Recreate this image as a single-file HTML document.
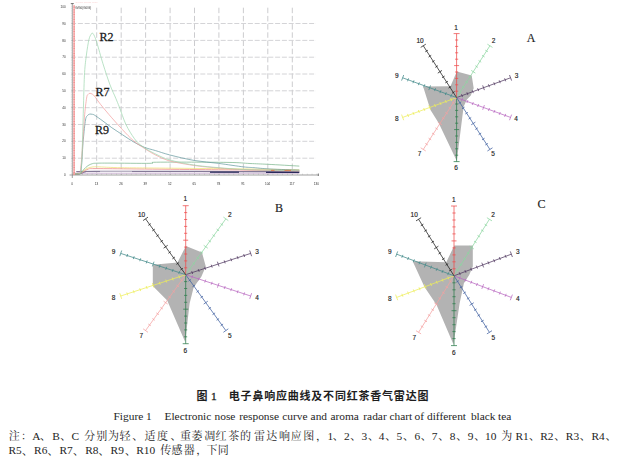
<!DOCTYPE html>
<html lang="zh"><head><meta charset="utf-8"><title>Figure 1</title>
<style>
html,body{margin:0;padding:0;background:#fff}
#fig{position:relative;width:623px;height:457px;overflow:hidden;background:#fff;font-family:"Liberation Serif",serif;color:#222}
#fig svg{position:absolute;left:0;top:0}
</style></head><body>
<div id="fig">
<svg width="623" height="457" viewBox="0 0 623 457" role="img" aria-label="Figure 1">
<defs><filter id="soft" x="-5%" y="-5%" width="110%" height="110%"><feGaussianBlur stdDeviation="0.32"/></filter></defs>
<g id="linechart" filter="url(#soft)"><g stroke="#c6c6ca" stroke-width="0.9" stroke-dasharray="5.5 2.7" fill="none"><line x1="96.7" y1="7.7" x2="96.7" y2="175.0"/><line x1="121.2" y1="7.7" x2="121.2" y2="175.0"/><line x1="145.6" y1="7.7" x2="145.6" y2="175.0"/><line x1="170.1" y1="7.7" x2="170.1" y2="175.0"/><line x1="194.5" y1="7.7" x2="194.5" y2="175.0"/><line x1="218.9" y1="7.7" x2="218.9" y2="175.0"/><line x1="243.4" y1="7.7" x2="243.4" y2="175.0"/><line x1="267.8" y1="7.7" x2="267.8" y2="175.0"/><line x1="292.3" y1="7.7" x2="292.3" y2="175.0"/></g>
<g stroke="#cfcfd2" stroke-width="0.9" stroke-dasharray="5 1.8" fill="none"><line x1="71.1" y1="158.2" x2="316.0" y2="158.2"/><line x1="71.1" y1="141.3" x2="316.0" y2="141.3"/><line x1="71.1" y1="124.5" x2="316.0" y2="124.5"/><line x1="71.1" y1="107.7" x2="316.0" y2="107.7"/><line x1="71.1" y1="90.8" x2="316.0" y2="90.8"/><line x1="71.1" y1="74.0" x2="316.0" y2="74.0"/><line x1="71.1" y1="57.2" x2="316.0" y2="57.2"/><line x1="71.1" y1="40.4" x2="316.0" y2="40.4"/><line x1="71.1" y1="23.5" x2="316.0" y2="23.5"/></g>
<path d="M73.0 173.2L299.3 173.2" fill="none" stroke="#dccae0" stroke-width="1.5" stroke-linejoin="round"/>
<path d="M73.0 174.0C74.2 173.9 78.0 173.9 80.0 173.6C82.0 173.3 82.5 172.4 85.0 172.0C87.5 171.6 59.3 171.5 95.0 171.4C130.7 171.3 265.2 171.6 299.3 171.6" fill="none" stroke="#857a98" stroke-width="1.2" stroke-linejoin="round"/>
<path d="M210.0 172.2L239.0 172.2" fill="none" stroke="#2c2c5c" stroke-width="1.2" stroke-linejoin="round"/>
<path d="M266.0 172.4L299.3 172.4" fill="none" stroke="#2c2c5c" stroke-width="1.2" stroke-linejoin="round"/>
<path d="M73.0 174.0C74.0 174.0 77.2 174.2 79.0 173.8C80.8 173.4 82.0 172.3 83.5 171.5C85.0 170.7 86.2 169.7 88.0 169.2C89.8 168.7 87.0 168.6 94.0 168.6C101.0 168.6 112.3 168.7 130.0 168.9C147.7 169.1 171.8 169.3 200.0 169.6C228.2 169.8 282.8 170.3 299.3 170.4" fill="none" stroke="#f09898" stroke-width="0.9" stroke-linejoin="round"/>
<path d="M73.0 174.0C74.0 174.0 77.4 174.2 79.0 173.8C80.6 173.4 81.2 172.4 82.5 171.5C83.8 170.6 85.2 169.2 87.0 168.4C88.8 167.6 90.8 167.2 93.0 166.9C95.2 166.7 96.2 166.8 100.0 166.9C103.8 167.0 107.7 167.4 116.0 167.6C124.3 167.8 127.7 167.8 150.0 168.0C172.3 168.2 225.1 168.7 250.0 169.0C274.9 169.3 291.1 169.7 299.3 169.8" fill="none" stroke="#ece070" stroke-width="0.7" stroke-linejoin="round"/>
<path d="M73.0 174.0C74.0 174.0 77.6 174.1 79.0 173.8C80.4 173.5 80.7 173.2 81.5 172.4C82.3 171.6 82.9 170.3 84.0 169.2C85.1 168.1 86.6 166.5 88.0 165.6C89.4 164.7 91.0 164.0 92.5 163.6C94.0 163.2 94.1 163.3 97.0 163.2C99.9 163.1 101.2 163.1 110.0 163.1C118.8 163.1 142.0 163.5 150.0 163.3C158.0 163.2 145.2 162.3 158.0 162.2C170.8 162.0 211.7 162.2 227.0 162.4C242.3 162.6 243.2 163.2 250.0 163.5C256.8 163.8 259.5 163.9 267.7 164.3C275.9 164.7 294.0 165.8 299.3 166.1" fill="none" stroke="#74b286" stroke-width="0.7" stroke-linejoin="round"/>
<path d="M73.0 174.0C74.2 173.9 78.6 175.1 80.0 173.6C81.4 172.1 81.0 170.7 81.6 165.0C82.1 159.3 82.6 147.2 83.3 139.7C84.0 132.2 84.8 124.0 85.5 120.0C86.2 116.0 86.8 116.5 87.5 115.5C88.2 114.5 89.2 114.3 89.9 114.1C90.7 113.9 91.3 114.1 92.0 114.3C92.7 114.5 92.5 113.9 94.3 115.0C96.1 116.1 100.1 119.0 103.0 121.1C105.9 123.2 108.5 125.4 111.8 127.7C115.1 130.0 119.1 132.5 122.7 134.9C126.3 137.3 129.9 139.8 133.6 141.9C137.2 144.0 140.9 146.0 144.6 147.4C148.2 148.8 151.3 149.3 155.5 150.6C159.7 151.8 163.1 153.2 169.6 154.9C176.1 156.6 186.3 159.1 194.5 160.5C202.7 161.9 210.5 162.3 218.7 163.4C226.9 164.5 237.7 166.2 243.6 166.9C249.5 167.6 249.6 167.3 254.0 167.7C258.4 168.0 262.4 168.6 270.0 169.0C277.6 169.4 294.4 169.9 299.3 170.1" fill="none" stroke="#62969c" stroke-width="0.7" stroke-linejoin="round"/>
<path d="M73.0 174.0C74.1 173.9 78.2 175.1 79.5 173.6C80.8 172.1 80.5 168.8 81.0 165.0C81.5 161.2 81.6 158.5 82.2 150.6C82.8 142.7 83.7 126.5 84.4 117.8C85.1 109.0 86.0 102.0 86.6 98.1C87.2 94.2 87.5 95.3 88.0 94.5C88.5 93.7 89.2 93.4 89.9 93.3C90.6 93.2 91.3 93.6 92.0 94.0C92.7 94.4 92.8 94.1 94.3 95.9C95.8 97.7 97.9 101.1 100.8 104.7C103.7 108.3 108.1 113.6 111.8 117.8C115.5 122.0 119.1 126.1 122.7 129.9C126.3 133.7 129.9 137.7 133.6 140.8C137.2 143.9 140.9 146.1 144.6 148.5C148.2 150.9 151.6 153.0 155.5 155.0C159.4 157.0 163.6 159.1 168.0 160.5C172.4 161.9 177.0 162.6 182.0 163.5C187.0 164.4 191.9 165.2 198.0 166.0C204.1 166.8 211.1 167.4 218.7 168.0C226.3 168.6 235.0 169.4 243.6 169.8C252.2 170.2 260.7 170.3 270.0 170.5C279.3 170.7 294.4 170.9 299.3 171.0" fill="none" stroke="#f29c9c" stroke-width="0.7" stroke-linejoin="round"/>
<path d="M73.0 174.0C74.1 173.9 78.4 175.1 79.8 173.6C81.2 172.1 81.0 170.6 81.5 165.0C82.0 159.4 82.2 150.0 82.5 140.0C82.8 130.0 83.2 116.2 83.5 105.0C83.8 93.8 84.1 80.8 84.6 72.5C85.1 64.2 85.7 60.5 86.4 55.0C87.1 49.5 88.2 42.7 89.0 39.3C89.8 35.9 90.5 35.5 91.0 34.5C91.5 33.5 91.8 33.2 92.2 33.1C92.6 33.0 93.0 33.5 93.3 34.0C93.6 34.5 93.7 34.3 94.3 35.8C94.9 37.3 95.5 38.1 96.9 42.8C98.4 47.5 100.8 56.8 103.0 63.8C105.2 70.8 107.8 79.0 110.0 84.8C112.2 90.6 114.5 95.1 116.0 98.8C117.5 102.5 117.6 102.6 119.3 106.9C121.0 111.2 123.4 119.1 125.9 124.4C128.4 129.7 131.9 135.1 134.4 138.6C136.9 142.1 138.4 143.2 140.8 145.2C143.2 147.2 145.8 148.8 149.0 150.6C152.2 152.4 156.7 154.6 159.9 156.1C163.1 157.6 164.3 158.3 168.0 159.4C171.7 160.5 177.0 161.9 182.0 162.9C187.0 163.9 191.9 164.8 198.0 165.6C204.1 166.4 211.1 167.0 218.7 167.7C226.3 168.3 235.0 169.1 243.6 169.5C252.2 169.9 260.7 170.1 270.0 170.3C279.3 170.5 294.4 170.7 299.3 170.8" fill="none" stroke="#9cd6ae" stroke-width="0.7" stroke-linejoin="round"/>
<path d="M271 170.4h3.5M284.5 170.4h6.5" stroke="#e0703c" stroke-width="0.8" fill="none"/>
<path d="M100 171.9H132" stroke="#fff" stroke-width="0.7" fill="none"/>
<path d="M72.3 3.5V178M69.5 175.0H318.3" fill="none" stroke="#777" stroke-width="0.7"/>
<path d="M70.8 3.6h3M318.3 176.0v-2.5" fill="none" stroke="#505050" stroke-width="0.8"/>
<line x1="71.4" y1="6.7" x2="71.4" y2="175.0" stroke="#bbb" stroke-width="0.7" stroke-dasharray="0.4 1.283"/>
<line x1="72.3" y1="174.2" x2="317" y2="174.2" stroke="#999" stroke-width="0.9" stroke-dasharray="0.45 4.438"/>
<line x1="74.1" y1="5.5" x2="74.1" y2="175.0" stroke="#f7b0b0" stroke-width="1.5"/>
<line x1="74.1" y1="5.5" x2="74.1" y2="175.0" stroke="#f28686" stroke-width="1.3" stroke-dasharray="0.9 0.8"/>
<g font-family="Liberation Sans, sans-serif" font-size="3.1" fill="#2a2a2a"><text x="65.7" y="176.1" text-anchor="end">0</text><text x="65.7" y="159.3" text-anchor="end">10</text><text x="65.7" y="142.4" text-anchor="end">20</text><text x="65.7" y="125.6" text-anchor="end">30</text><text x="65.7" y="108.8" text-anchor="end">40</text><text x="65.7" y="91.9" text-anchor="end">50</text><text x="65.7" y="75.1" text-anchor="end">60</text><text x="65.7" y="58.3" text-anchor="end">70</text><text x="65.7" y="41.5" text-anchor="end">80</text><text x="65.7" y="24.6" text-anchor="end">90</text><text x="65.7" y="7.8" text-anchor="end">100</text><text x="72.0" y="184.8" text-anchor="middle">0</text><text x="96.4" y="184.8" text-anchor="middle">13</text><text x="120.9" y="184.8" text-anchor="middle">26</text><text x="145.3" y="184.8" text-anchor="middle">39</text><text x="169.8" y="184.8" text-anchor="middle">52</text><text x="194.2" y="184.8" text-anchor="middle">65</text><text x="218.6" y="184.8" text-anchor="middle">78</text><text x="243.1" y="184.8" text-anchor="middle">91</text><text x="267.5" y="184.8" text-anchor="middle">104</text><text x="292.0" y="184.8" text-anchor="middle">117</text><text x="316.4" y="184.8" text-anchor="middle">130</text><text x="75.2" y="9.2" font-size="2.95">G/G0(G0/G)</text></g>
<text x="75.6" y="3.1" font-family="Liberation Sans, sans-serif" font-size="2.4" fill="#fad4d4">Sensor signals G/G0 · · ·</text></g>
<text x="99.6" y="40.9" font-family="Liberation Serif, serif" font-size="12" fill="#1c1c1c" stroke="#1c1c1c" stroke-width="0.28">R2</text><text x="95.4" y="96.1" font-family="Liberation Serif, serif" font-size="12" fill="#1c1c1c" stroke="#1c1c1c" stroke-width="0.28">R7</text><text x="95.0" y="134.0" font-family="Liberation Serif, serif" font-size="12" fill="#1c1c1c" stroke="#1c1c1c" stroke-width="0.28">R9</text>
<g id="radarA"><g filter="url(#soft)"><path d="M456.8 71.6L471.7 75.5L473.7 88.2L470.8 95.5L466.9 99.4L463.6 106.7L456.8 161.0L438.8 123.2L430.5 110.0L423.1 86.6L450.5 86.3Z" fill="#b3b3b3"/>
<path d="M456.6 97.6L456.6 33.6M455.1 91.2L458.2 91.2M455.1 84.8L458.2 84.8M455.1 78.4L458.2 78.4M455.1 72.0L458.2 72.0M454.1 65.6L459.1 65.6M455.1 59.2L458.2 59.2M455.1 52.8L458.2 52.8M455.1 46.4L458.2 46.4M455.1 40.0L458.2 40.0M453.6 33.6L459.6 33.6" fill="none" stroke="#ee4c4c" stroke-width="0.75"/>
<path d="M456.6 97.6L489.9 45.8M458.6 91.6L461.2 93.3M462.0 86.4L464.6 88.1M465.3 81.2L467.9 82.9M468.6 76.1L471.2 77.7M471.2 70.4L475.4 73.1M475.3 65.7L477.9 67.4M478.6 60.5L481.2 62.2M482.0 55.3L484.6 57.0M485.3 50.2L487.9 51.8M487.4 44.2L492.5 47.4" fill="none" stroke="#8cd6a0" stroke-width="0.75"/>
<path d="M456.6 97.6L510.5 77.8M461.5 94.2L462.5 97.1M466.9 92.2L467.9 95.1M472.2 90.2L473.3 93.1M477.6 88.2L478.7 91.1M482.7 85.4L484.4 90.1M488.4 84.3L489.5 87.2M493.8 82.3L494.9 85.2M499.2 80.3L500.3 83.2M504.6 78.3L505.7 81.3M509.5 75.0L511.6 80.6" fill="none" stroke="#503860" stroke-width="0.75"/>
<path d="M456.6 97.6L510.5 117.4M462.5 98.1L461.5 101.0M467.9 100.1L466.9 103.0M473.3 102.1L472.2 105.0M478.7 104.1L477.6 107.0M484.4 105.1L482.7 109.8M489.5 108.0L488.4 110.9M494.9 110.0L493.8 112.9M500.3 112.0L499.2 114.9M505.7 113.9L504.6 116.9M511.6 114.6L509.5 120.2" fill="none" stroke="#b868c0" stroke-width="0.75"/>
<path d="M456.6 97.6L489.9 149.4M461.2 101.9L458.6 103.6M464.6 107.1L462.0 108.8M467.9 112.3L465.3 114.0M471.2 117.5L468.6 119.1M475.4 122.1L471.2 124.8M477.9 127.8L475.3 129.5M481.2 133.0L478.6 134.7M484.6 138.2L482.0 139.9M487.9 143.4L485.3 145.0M492.5 147.8L487.4 151.0" fill="none" stroke="#4060a0" stroke-width="0.75"/>
<path d="M456.6 97.6L456.6 161.6M458.2 104.0L455.1 104.0M458.2 110.4L455.1 110.4M458.2 116.8L455.1 116.8M458.2 123.2L455.1 123.2M459.1 129.6L454.1 129.6M458.2 136.0L455.1 136.0M458.2 142.4L455.1 142.4M458.2 148.8L455.1 148.8M458.2 155.2L455.1 155.2M459.6 161.6L453.6 161.6" fill="none" stroke="#2e7c4c" stroke-width="0.75"/>
<path d="M456.6 97.6L423.3 149.4M454.6 103.6L452.0 101.9M451.2 108.8L448.6 107.1M447.9 114.0L445.3 112.3M444.6 119.1L442.0 117.5M442.0 124.8L437.8 122.1M437.9 129.5L435.3 127.8M434.6 134.7L432.0 133.0M431.2 139.9L428.6 138.2M427.9 145.0L425.3 143.4M425.8 151.0L420.7 147.8" fill="none" stroke="#f4a0a0" stroke-width="0.75"/>
<path d="M456.6 97.6L402.7 117.4M451.7 101.0L450.7 98.1M446.3 103.0L445.3 100.1M441.0 105.0L439.9 102.1M435.6 107.0L434.5 104.1M430.5 109.8L428.8 105.1M424.8 110.9L423.7 108.0M419.4 112.9L418.3 110.0M414.0 114.9L412.9 112.0M408.6 116.9L407.5 113.9M403.7 120.2L401.6 114.6" fill="none" stroke="#eeee58" stroke-width="0.75"/>
<path d="M456.6 97.6L402.7 77.8M450.7 97.1L451.7 94.2M445.3 95.1L446.3 92.2M439.9 93.1L441.0 90.2M434.5 91.1L435.6 88.2M428.8 90.1L430.5 85.4M423.7 87.2L424.8 84.3M418.3 85.2L419.4 82.3M412.9 83.2L414.0 80.3M407.5 81.3L408.6 78.3M401.6 80.6L403.7 75.0" fill="none" stroke="#408888" stroke-width="0.75"/>
<path d="M456.6 97.6L423.3 45.8M452.0 93.3L454.6 91.6M448.6 88.1L451.2 86.4M445.3 82.9L447.9 81.2M442.0 77.7L444.6 76.1M437.8 73.1L442.0 70.4M435.3 67.4L437.9 65.7M432.0 62.2L434.6 60.5M428.6 57.0L431.2 55.3M425.3 51.8L427.9 50.2M420.7 47.4L425.8 44.2" fill="none" stroke="#1c1c1c" stroke-width="0.75"/></g><g font-family="Liberation Sans, sans-serif" font-size="6.5" fill="#222" stroke="#222" stroke-width="0.15" text-anchor="middle"><text x="456.1" y="30.0">1</text><text x="493.5" y="43.2">2</text><text x="516.5" y="78.2">3</text><text x="516.0" y="120.9">4</text><text x="493.1" y="156.3">5</text><text x="456.1" y="169.9">6</text><text x="419.6" y="155.7">7</text><text x="396.7" y="120.9">8</text><text x="396.7" y="78.2">9</text><text x="420.0" y="43.2">10</text></g></g>
<g id="radarB"><g filter="url(#soft)"><path d="M185.9 246.0L202.0 252.6L205.8 266.4L201.2 277.1L196.6 283.2L193.5 288.0L189.6 303.4L185.2 342.0L167.2 300.6L152.8 286.0L152.8 264.8L177.5 262.6Z" fill="#b3b3b3"/>
<path d="M185.7 274.7L185.7 205.7M184.1 267.8L187.2 267.8M184.1 260.9L187.2 260.9M184.1 254.0L187.2 254.0M184.1 247.1L187.2 247.1M183.2 240.2L188.2 240.2M184.1 233.3L187.2 233.3M184.1 226.4L187.2 226.4M184.1 219.5L187.2 219.5M184.1 212.6L187.2 212.6M182.7 205.7L188.7 205.7" fill="none" stroke="#ee4c4c" stroke-width="0.75"/>
<path d="M185.7 274.7L225.8 218.9M188.5 268.2L191.0 270.0M192.5 262.6L195.0 264.4M196.5 257.0L199.0 258.9M200.5 251.5L203.0 253.3M203.7 245.3L207.8 248.2M208.5 240.3L211.0 242.1M212.5 234.7L215.1 236.5M216.6 229.1L219.1 230.9M220.6 223.6L223.1 225.4M223.4 217.1L228.3 220.6" fill="none" stroke="#8cd6a0" stroke-width="0.75"/>
<path d="M185.7 274.7L250.7 253.4M191.7 271.1L192.7 274.0M198.2 269.0L199.2 271.9M204.7 266.8L205.7 269.8M211.2 264.7L212.2 267.6M217.4 261.7L219.0 266.4M224.2 260.4L225.2 263.4M230.7 258.3L231.7 261.2M237.2 256.2L238.1 259.1M243.7 254.0L244.6 257.0M249.7 250.5L251.6 256.2" fill="none" stroke="#503860" stroke-width="0.75"/>
<path d="M185.7 274.7L250.7 296.0M192.7 275.4L191.7 278.3M199.2 277.5L198.2 280.4M205.7 279.6L204.7 282.6M212.2 281.8L211.2 284.7M219.0 283.0L217.4 287.7M225.2 286.0L224.2 289.0M231.7 288.2L230.7 291.1M238.1 290.3L237.2 293.2M244.6 292.4L243.7 295.4M251.6 293.2L249.7 298.9" fill="none" stroke="#b868c0" stroke-width="0.75"/>
<path d="M185.7 274.7L225.8 330.5M191.0 279.4L188.5 281.2M195.0 285.0L192.5 286.8M199.0 290.5L196.5 292.4M203.0 296.1L200.5 297.9M207.8 301.2L203.7 304.1M211.0 307.3L208.5 309.1M215.1 312.9L212.5 314.7M219.1 318.5L216.6 320.3M223.1 324.0L220.6 325.8M228.3 328.8L223.4 332.3" fill="none" stroke="#4060a0" stroke-width="0.75"/>
<path d="M185.7 274.7L185.7 343.7M187.2 281.6L184.1 281.6M187.2 288.5L184.1 288.5M187.2 295.4L184.1 295.4M187.2 302.3L184.1 302.3M188.2 309.2L183.2 309.2M187.2 316.1L184.1 316.1M187.2 323.0L184.1 323.0M187.2 329.9L184.1 329.9M187.2 336.8L184.1 336.8M188.7 343.7L182.7 343.7" fill="none" stroke="#2e7c4c" stroke-width="0.75"/>
<path d="M185.7 274.7L145.6 330.5M182.9 281.2L180.4 279.4M178.9 286.8L176.4 285.0M174.9 292.4L172.4 290.5M170.9 297.9L168.4 296.1M167.7 304.1L163.6 301.2M162.9 309.1L160.4 307.3M158.9 314.7L156.3 312.9M154.8 320.3L152.3 318.5M150.8 325.8L148.3 324.0M148.0 332.3L143.1 328.8" fill="none" stroke="#f4a0a0" stroke-width="0.75"/>
<path d="M185.7 274.7L120.7 296.0M179.7 278.3L178.7 275.4M173.2 280.4L172.2 277.5M166.7 282.6L165.7 279.6M160.2 284.7L159.2 281.8M154.0 287.7L152.4 283.0M147.2 289.0L146.2 286.0M140.7 291.1L139.7 288.2M134.2 293.2L133.3 290.3M127.7 295.4L126.8 292.4M121.7 298.9L119.8 293.2" fill="none" stroke="#eeee58" stroke-width="0.75"/>
<path d="M185.7 274.7L120.7 253.4M178.7 274.0L179.7 271.1M172.2 271.9L173.2 269.0M165.7 269.8L166.7 266.8M159.2 267.6L160.2 264.7M152.4 266.4L154.0 261.7M146.2 263.4L147.2 260.4M139.7 261.2L140.7 258.3M133.3 259.1L134.2 256.2M126.8 257.0L127.7 254.0M119.8 256.2L121.7 250.5" fill="none" stroke="#408888" stroke-width="0.75"/>
<path d="M185.7 274.7L145.6 218.9M180.4 270.0L182.9 268.2M176.4 264.4L178.9 262.6M172.4 258.9L174.9 257.0M168.4 253.3L170.9 251.5M163.6 248.2L167.7 245.3M160.4 242.1L162.9 240.3M156.3 236.5L158.9 234.7M152.3 230.9L154.8 229.1M148.3 225.4L150.8 223.6M143.1 220.6L148.0 217.1" fill="none" stroke="#1c1c1c" stroke-width="0.75"/></g><g font-family="Liberation Sans, sans-serif" font-size="6.5" fill="#222" stroke="#222" stroke-width="0.15" text-anchor="middle"><text x="185.2" y="201.2">1</text><text x="229.9" y="216.6">2</text><text x="257.1" y="253.8">3</text><text x="257.1" y="300.0">4</text><text x="229.7" y="337.8">5</text><text x="185.2" y="352.7">6</text><text x="141.3" y="337.8">7</text><text x="113.6" y="300.0">8</text><text x="113.6" y="253.8">9</text><text x="141.6" y="216.6">10</text></g></g>
<g id="radarC"><g filter="url(#soft)"><path d="M454.3 245.4L472.8 245.4L472.8 266.4L469.3 274.8L463.9 283.2L459.6 303.4L453.5 344.5L436.5 304.7L424.5 287.0L412.7 261.3L446.3 262.2Z" fill="#b3b3b3"/>
<path d="M454.0 275.8L454.0 206.0M452.4 268.8L455.6 268.8M452.4 261.8L455.6 261.8M452.4 254.9L455.6 254.9M452.4 247.9L455.6 247.9M451.5 240.9L456.5 240.9M452.4 233.9L455.6 233.9M452.4 226.9L455.6 226.9M452.4 220.0L455.6 220.0M452.4 213.0L455.6 213.0M451.0 206.0L457.0 206.0" fill="none" stroke="#ee4c4c" stroke-width="0.75"/>
<path d="M454.0 275.8L489.4 219.3M456.2 269.3L458.9 271.0M459.8 263.7L462.4 265.3M463.3 258.0L465.9 259.7M466.9 252.4L469.5 254.0M469.6 246.2L473.8 248.9M474.0 241.1L476.6 242.7M477.5 235.4L480.1 237.1M481.0 229.8L483.7 231.4M484.6 224.2L487.2 225.8M486.9 217.7L492.0 220.9" fill="none" stroke="#8cd6a0" stroke-width="0.75"/>
<path d="M454.0 275.8L511.3 254.2M459.2 272.2L460.3 275.1M464.9 270.0L466.0 272.9M470.7 267.9L471.8 270.8M476.4 265.7L477.5 268.6M481.8 262.7L483.6 267.4M487.9 261.4L489.0 264.3M493.6 259.3L494.7 262.2M499.3 257.1L500.4 260.0M505.1 254.9L506.2 257.8M510.3 251.4L512.4 257.0" fill="none" stroke="#503860" stroke-width="0.75"/>
<path d="M454.0 275.8L511.3 297.4M460.3 276.5L459.2 279.4M466.0 278.7L464.9 281.6M471.8 280.8L470.7 283.7M477.5 283.0L476.4 285.9M483.6 284.2L481.8 288.9M489.0 287.3L487.9 290.2M494.7 289.4L493.6 292.3M500.4 291.6L499.3 294.5M506.2 293.8L505.1 296.7M512.4 294.6L510.3 300.2" fill="none" stroke="#b868c0" stroke-width="0.75"/>
<path d="M454.0 275.8L489.4 332.3M458.9 280.6L456.2 282.3M462.4 286.3L459.8 287.9M465.9 291.9L463.3 293.6M469.5 297.6L466.9 299.2M473.8 302.7L469.6 305.4M476.6 308.9L474.0 310.5M480.1 314.5L477.5 316.2M483.7 320.2L481.0 321.8M487.2 325.8L484.6 327.4M492.0 330.7L486.9 333.9" fill="none" stroke="#4060a0" stroke-width="0.75"/>
<path d="M454.0 275.8L454.0 345.6M455.6 282.8L452.4 282.8M455.6 289.8L452.4 289.8M455.6 296.7L452.4 296.7M455.6 303.7L452.4 303.7M456.5 310.7L451.5 310.7M455.6 317.7L452.4 317.7M455.6 324.7L452.4 324.7M455.6 331.6L452.4 331.6M455.6 338.6L452.4 338.6M457.0 345.6L451.0 345.6" fill="none" stroke="#2e7c4c" stroke-width="0.75"/>
<path d="M454.0 275.8L418.6 332.3M451.8 282.3L449.1 280.6M448.2 287.9L445.6 286.3M444.7 293.6L442.1 291.9M441.1 299.2L438.5 297.6M438.4 305.4L434.2 302.7M434.0 310.5L431.4 308.9M430.5 316.2L427.9 314.5M427.0 321.8L424.3 320.2M423.4 327.4L420.8 325.8M421.1 333.9L416.0 330.7" fill="none" stroke="#f4a0a0" stroke-width="0.75"/>
<path d="M454.0 275.8L396.7 297.4M448.8 279.4L447.7 276.5M443.1 281.6L442.0 278.7M437.3 283.7L436.2 280.8M431.6 285.9L430.5 283.0M426.2 288.9L424.4 284.2M420.1 290.2L419.0 287.3M414.4 292.3L413.3 289.4M408.7 294.5L407.6 291.6M402.9 296.7L401.8 293.8M397.7 300.2L395.6 294.6" fill="none" stroke="#eeee58" stroke-width="0.75"/>
<path d="M454.0 275.8L396.7 254.2M447.7 275.1L448.8 272.2M442.0 272.9L443.1 270.0M436.2 270.8L437.3 267.9M430.5 268.6L431.6 265.7M424.4 267.4L426.2 262.7M419.0 264.3L420.1 261.4M413.3 262.2L414.4 259.3M407.6 260.0L408.7 257.1M401.8 257.8L402.9 254.9M395.6 257.0L397.7 251.4" fill="none" stroke="#408888" stroke-width="0.75"/>
<path d="M454.0 275.8L418.6 219.3M449.1 271.0L451.8 269.3M445.6 265.3L448.2 263.7M442.1 259.7L444.7 258.0M438.5 254.0L441.1 252.4M434.2 248.9L438.4 246.2M431.4 242.7L434.0 241.1M427.9 237.1L430.5 235.4M424.3 231.4L427.0 229.8M420.8 225.8L423.4 224.2M416.0 220.9L421.1 217.7" fill="none" stroke="#1c1c1c" stroke-width="0.75"/></g><g font-family="Liberation Sans, sans-serif" font-size="6.5" fill="#222" stroke="#222" stroke-width="0.15" text-anchor="middle"><text x="453.7" y="201.7">1</text><text x="493.0" y="216.6">2</text><text x="517.9" y="254.3">3</text><text x="517.9" y="301.3">4</text><text x="493.3" y="339.6">5</text><text x="453.7" y="355.3">6</text><text x="414.2" y="339.6">7</text><text x="389.8" y="301.3">8</text><text x="389.8" y="254.3">9</text><text x="414.2" y="216.6">10</text></g></g>
<text x="526.8" y="41.9" font-family="Liberation Serif, serif" font-size="12" fill="#1c1c1c" stroke="#1c1c1c" stroke-width="0.15">A</text>
<text x="275.0" y="211.7" font-family="Liberation Serif, serif" font-size="12" fill="#1c1c1c" stroke="#1c1c1c" stroke-width="0.15">B</text>
<text x="537.5" y="207.9" font-family="Liberation Serif, serif" font-size="12" fill="#1c1c1c" stroke="#1c1c1c" stroke-width="0.15">C</text>
<g id="caption" fill="#1e1e1e"><g id="cap1" font-family="'Liberation Sans', 'Noto Sans CJK SC', sans-serif" font-size="11" font-weight="bold" fill="#1e1e1e"><text x="196.5" y="400">图</text><text x="228.8 240.59 252.38 264.17 275.96 287.75 299.54 311.33 323.12 334.91 346.7 358.49 370.28 382.07 393.86 405.65 417.44" y="400">电子鼻响应曲线及不同红茶香气雷达图</text></g>
<g id="cap3" font-family="'Liberation Serif', 'Noto Serif CJK SC', serif" font-size="11" fill="#1e1e1e"><text x="8.73" y="439.7">注</text><text x="21" y="439.7">：</text><text x="40" y="440.3">、</text><text x="60.2" y="440.3">、</text><text x="84.18 96.13 107.96 119.55" y="439.7">分别为轻</text><text x="132.3" y="440.3">、</text><text x="144.6 157.1" y="439.7">适度</text><text x="170.4" y="440.3">、</text><text x="180 191.46 204.18 215.59 228.23 240.04 253.91 266.19 279.1 290.64 303.2" y="439.7">重萎凋红茶的雷达响应图</text><text x="316" y="439.7">，</text><text x="332.8" y="440.3">、</text><text x="350.3" y="440.3">、</text><text x="368" y="440.3">、</text><text x="385.2" y="440.3">、</text><text x="402.9" y="440.3">、</text><text x="420.7" y="440.3">、</text><text x="438.2" y="440.3">、</text><text x="456.2" y="440.3">、</text><text x="474.2" y="440.3">、</text><text x="501.16" y="439.7">为</text><text x="529" y="440.3">、</text><text x="554.2" y="440.3">、</text><text x="579.8" y="440.3">、</text><text x="605.4" y="440.3">、</text></g>
<g id="cap4" font-family="'Liberation Serif', 'Noto Serif CJK SC', serif" font-size="11" fill="#1e1e1e"><text x="21.9" y="454.8">、</text><text x="47.4" y="454.8">、</text><text x="73" y="454.8">、</text><text x="98.4" y="454.8">、</text><text x="125" y="454.8">、</text><text x="160.34 171.4 183.73" y="454.2">传感器</text><text x="196.2" y="454.2">，</text><text x="206.45 217.82" y="454.2">下同</text></g>
<text x="211.0" y="400.0" font-family="Liberation Serif, serif" font-size="11.4" fill="#1e1e1e" stroke="#1e1e1e" stroke-width="0.3">1</text><text x="113.5" y="419.7" font-family="Liberation Serif, serif" font-size="11.4" fill="#1e1e1e">Figure 1</text><text y="419.7" font-family="Liberation Serif, serif" font-size="11.4" fill="#1e1e1e"><tspan x="164.5">Electronic</tspan> <tspan x="214.5">nose</tspan> <tspan x="239.2">response</tspan> <tspan x="282.3">curve</tspan> <tspan x="310.6">and</tspan> <tspan x="330.4">aroma</tspan> <tspan x="363.3">radar</tspan> <tspan x="389.4">chart</tspan> <tspan x="414.6">of</tspan> <tspan x="427.0">different</tspan> <tspan x="470.9">black</tspan> <tspan x="498.0">tea</tspan></text><text x="32.3" y="439.7" font-family="Liberation Serif, serif" font-size="11.4" fill="#1e1e1e">A</text><text x="52.2" y="439.7" font-family="Liberation Serif, serif" font-size="11.4" fill="#1e1e1e">B</text><text x="71.5" y="439.7" font-family="Liberation Serif, serif" font-size="11.4" fill="#1e1e1e">C</text><text x="327.6" y="439.7" font-family="Liberation Serif, serif" font-size="11.4" fill="#1e1e1e">1</text><text x="344.0" y="439.7" font-family="Liberation Serif, serif" font-size="11.4" fill="#1e1e1e">2</text><text x="361.6" y="439.7" font-family="Liberation Serif, serif" font-size="11.4" fill="#1e1e1e">3</text><text x="378.7" y="439.7" font-family="Liberation Serif, serif" font-size="11.4" fill="#1e1e1e">4</text><text x="396.6" y="439.7" font-family="Liberation Serif, serif" font-size="11.4" fill="#1e1e1e">5</text><text x="414.4" y="439.7" font-family="Liberation Serif, serif" font-size="11.4" fill="#1e1e1e">6</text><text x="431.8" y="439.7" font-family="Liberation Serif, serif" font-size="11.4" fill="#1e1e1e">7</text><text x="449.8" y="439.7" font-family="Liberation Serif, serif" font-size="11.4" fill="#1e1e1e">8</text><text x="467.7" y="439.7" font-family="Liberation Serif, serif" font-size="11.4" fill="#1e1e1e">9</text><text x="485.0" y="439.7" font-family="Liberation Serif, serif" font-size="11.4" fill="#1e1e1e">10</text><text x="515.4" y="439.7" font-family="Liberation Serif, serif" font-size="11.4" fill="#1e1e1e">R1</text><text x="540.2" y="439.7" font-family="Liberation Serif, serif" font-size="11.4" fill="#1e1e1e">R2</text><text x="565.8" y="439.7" font-family="Liberation Serif, serif" font-size="11.4" fill="#1e1e1e">R3</text><text x="591.4" y="439.7" font-family="Liberation Serif, serif" font-size="11.4" fill="#1e1e1e">R4</text><text x="8.5" y="454.2" font-family="Liberation Serif, serif" font-size="11.4" fill="#1e1e1e">R5</text><text x="34.1" y="454.2" font-family="Liberation Serif, serif" font-size="11.4" fill="#1e1e1e">R6</text><text x="59.5" y="454.2" font-family="Liberation Serif, serif" font-size="11.4" fill="#1e1e1e">R7</text><text x="85.2" y="454.2" font-family="Liberation Serif, serif" font-size="11.4" fill="#1e1e1e">R8</text><text x="110.6" y="454.2" font-family="Liberation Serif, serif" font-size="11.4" fill="#1e1e1e">R9</text><text x="136.2" y="454.2" font-family="Liberation Serif, serif" font-size="11.4" fill="#1e1e1e">R10</text></g>
</svg>

</div></body></html>
